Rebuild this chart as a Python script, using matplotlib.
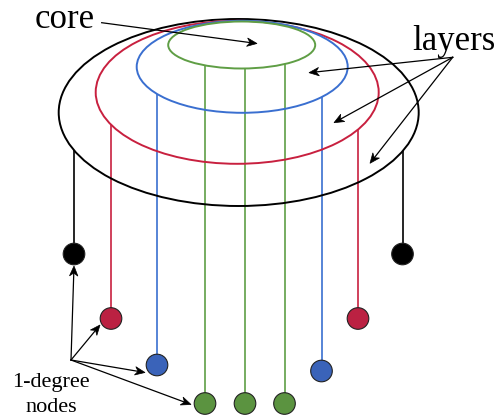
import numpy as np
import matplotlib
matplotlib.use("Agg")
import matplotlib.pyplot as plt
from matplotlib.patches import Ellipse, Circle, Polygon

# ---- data (pixel coordinates of the diagram) ----
layer_colors = ["#000000", "#C8203F", "#3A6FD0", "#5F9E45"]
node_fill = ["#000000", "#BB2142", "#3A63B9", "#5B9340"]
ell_cx = [238.7, 237.2, 242.2, 241.7]
ell_cy = [112.5, 92.3, 66.8, 45.0]
ell_w = [360, 283, 211, 147]
ell_h = [187, 143, 92, 47]

# pendant nodes: layer index, x, y
node_layer = [0, 0, 1, 1, 2, 2, 3, 3, 3]
node_x = [74, 402.5, 111, 358, 157, 321.5, 205, 245, 284.5]
node_y = [254, 254, 318.5, 318.5, 365, 371, 403.5, 403.5, 403.5]
node_r = 10.8

core_arrow = [(101.7, 22.7), (257, 43.5)]
layers_src = (452.7, 57.3)
layers_tgt = [(309, 72.7), (334, 122.7), (370, 163.3)]
deg_src = (71, 360)
deg_tgt = [(74, 266), (100, 325), (145, 372.5), (191, 404.5)]

fig = plt.figure(figsize=(4.96, 4.17), dpi=100)
ax = fig.add_axes([0, 0, 1, 1])
ax.set_xlim(0, 496)
ax.set_ylim(417, 0)
ax.axis("off")

serif = ["Liberation Serif", "DejaVu Serif"]


def ell_lower_y(i, x):
    dx = (x - ell_cx[i]) / (ell_w[i] / 2)
    return ell_cy[i] + (ell_h[i] / 2) * np.sqrt(max(0.0, 1 - dx * dx))


# ellipses
for i in range(4):
    ax.add_patch(Ellipse((ell_cx[i], ell_cy[i]), ell_w[i], ell_h[i], fill=False,
                         ec=layer_colors[i], lw=1.4, zorder=2))

# vertical lines and nodes
for li, x, y in zip(node_layer, node_x, node_y):
    y0 = ell_lower_y(li, x)
    ax.plot([x, x], [y0, y], color=layer_colors[li], lw=1.2, zorder=1,
            solid_capstyle="butt")
    ax.add_patch(Circle((x, y), node_r, fc=node_fill[li], ec="#222222", lw=0.8, zorder=3))


def arrow(p0, p1, hl=10.0, hw=4.2, notch=3.0):
    p0 = np.array(p0, float)
    p1 = np.array(p1, float)
    d = p1 - p0
    L = np.hypot(*d)
    u = d / L
    n = np.array([-u[1], u[0]])
    base = p1 - u * hl
    inner = p1 - u * (hl - notch)
    ax.plot([p0[0], inner[0]], [p0[1], inner[1]], color="black", lw=0.9, zorder=4)
    pts = [p1, base + n * hw, inner, base - n * hw]
    ax.add_patch(Polygon(pts, closed=True, fc="black", ec="black", lw=0.5, zorder=5))


arrow(*core_arrow)
for t in layers_tgt:
    arrow(layers_src, t)
for t in deg_tgt:
    arrow(deg_src, t)

ax.text(35, 28, "core", fontsize=25, family=serif, ha="left", va="baseline")
ax.text(412.5, 50, "layers", fontsize=25, family=serif, ha="left", va="baseline")
ax.text(51, 386.7, "1-degree", fontsize=16, family=serif, ha="center", va="baseline")
ax.text(51, 411.7, "nodes", fontsize=16, family=serif, ha="center", va="baseline")

fig.savefig("out.png", dpi=100)
